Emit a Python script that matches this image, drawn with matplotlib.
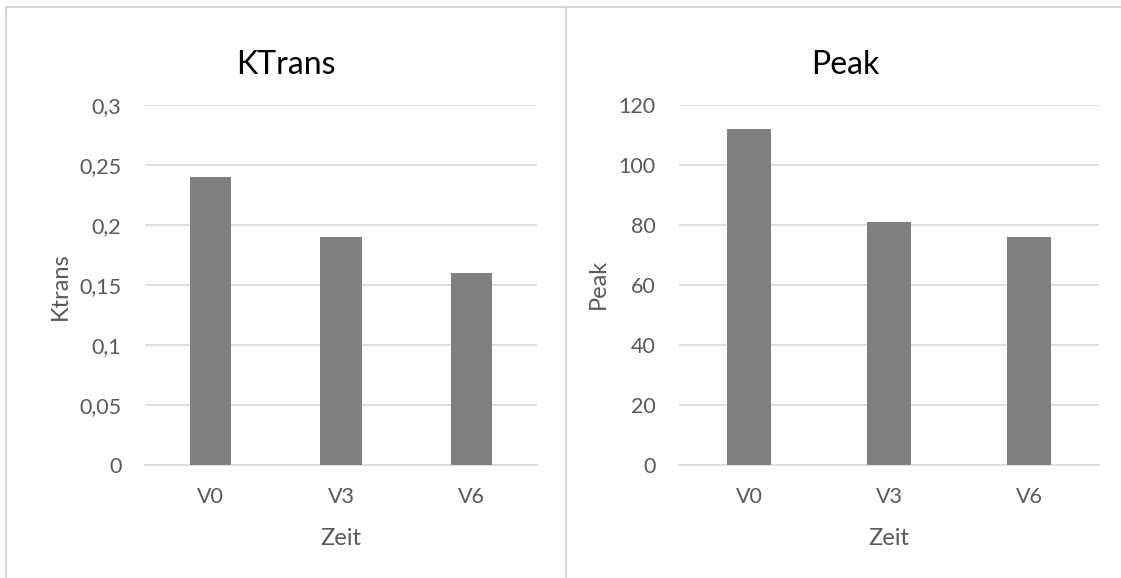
import matplotlib
matplotlib.use("Agg")
import matplotlib.pyplot as plt
from matplotlib.lines import Line2D
from matplotlib.ticker import FuncFormatter, MultipleLocator

# ── data ──────────────────────────────────────────────────────────────────────
zeitpunkte = ["V0", "V3", "V6"]
ktrans = [0.24, 0.19, 0.16]
peak = [112, 81, 76]

GRID = "#d9d9d9"
TEXT = "#595959"
BAR = "#808080"

plt.rcParams["font.family"] = ["Lato", "DejaVu Sans"]

W, H = 1121, 578
fig = plt.figure(figsize=(W / 100, H / 100), dpi=100)


def px_axes(x0, x1, y_top, y_bot):
    return fig.add_axes([x0 / W, 1 - y_bot / H, (x1 - x0) / W, (y_bot - y_top) / H])


def _comma(v, _pos):
    return f"{v:g}".replace(".", ",")


def draw_panel(ax, values, ymax, step, title, ylabel, title_x, ylabel_x, ylabel_y):
    x = range(len(zeitpunkte))
    ax.bar(x, values, width=0.314, color=BAR, zorder=3)
    ax.set_xlim(-0.5, len(zeitpunkte) - 0.5)
    ax.set_ylim(0, ymax)
    ax.yaxis.set_major_locator(MultipleLocator(step))
    ax.yaxis.set_major_formatter(FuncFormatter(_comma))
    ax.set_xticks(list(x))
    ax.set_xticklabels(zeitpunkte)
    ax.grid(axis="y", color=GRID, linewidth=1.2, zorder=0)
    for side in ("top", "right", "left"):
        ax.spines[side].set_visible(False)
    ax.spines["bottom"].set_color(GRID)
    ax.spines["bottom"].set_linewidth(1.2)
    ax.tick_params(axis="both", length=0, colors=TEXT, labelsize=15.5)
    ax.tick_params(axis="y", pad=17)
    ax.tick_params(axis="x", pad=16)

    # axis titles and chart title, placed on their baselines
    x_mid = (ax.get_position().x0 + ax.get_position().x1) / 2
    fig.text(x_mid, 1 - 545 / H, "Zeit", color=TEXT, fontsize=17,
             ha="center", va="baseline")
    fig.text(ylabel_x / W, 1 - ylabel_y / H, ylabel, rotation=90,
             rotation_mode="anchor", color=TEXT, fontsize=17,
             ha="center", va="baseline")
    fig.text(title_x / W, 1 - 74 / H, title, color="black", fontsize=23,
             ha="center", va="baseline")


ax_k = px_axes(145, 537, 105, 465)
draw_panel(ax_k, ktrans, 0.3, 0.05, "KTrans", "Ktrans", 286, 67, 286)

ax_p = px_axes(679, 1099, 105, 465)
draw_panel(ax_p, peak, 120, 20, "Peak", "Peak", 845, 605, 284)

# chart frames
for xs, ys in [((6, 6), (7, H)), ((566, 566), (7, H)), ((6, W), (7, 7))]:
    fig.add_artist(Line2D([x / W for x in xs], [1 - y / H for y in ys],
                          color=GRID, linewidth=1.5))

fig.savefig("out.png", dpi=100, facecolor="white")
